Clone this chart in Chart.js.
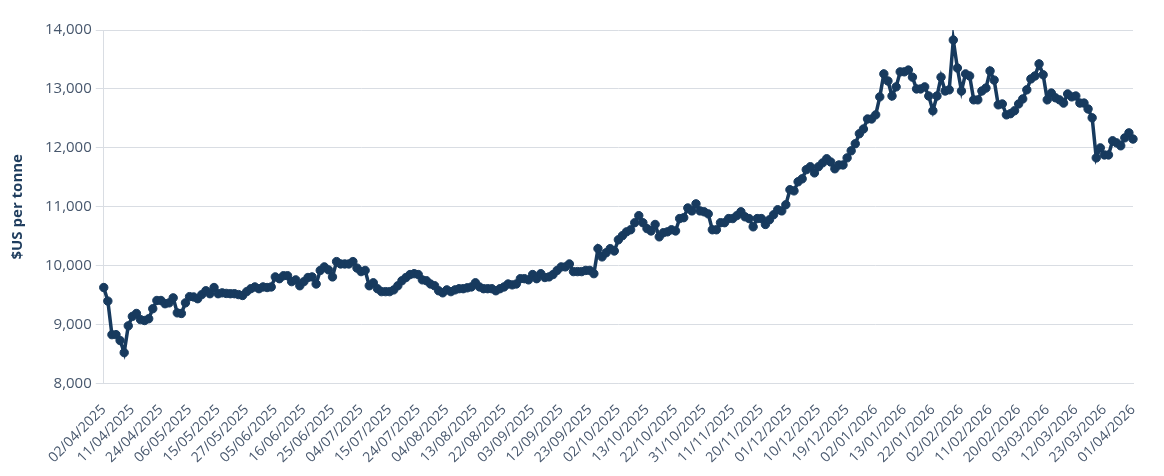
<!DOCTYPE html>
<html>
<head>
<meta charset="utf-8">
<script src="https://cdn.jsdelivr.net/npm/chart.js@4.4.1/dist/chart.umd.min.js"></script>
<style>
  html, body { margin: 0; padding: 0; background: #fff; }
  #wrap { width: 1164px; height: 476px; position: relative; }
</style>
</head>
<body>
<div id="wrap"><canvas id="chart"></canvas></div>
<script>
// trading days: weekdays from start to end, minus UK/LME holidays
var startDate = '2025-04-02';
var endDate = '2026-04-01';
var holidays = ['2025-04-18', '2025-04-21', '2025-05-05', '2025-05-26', '2025-08-25',
                '2025-12-25', '2025-12-26', '2026-01-01'];

// $US per tonne, one value per trading day, month by month
var apr25 = [9630, 9400, 8830, 8830, 8730, 8525, 8980, 9140, 9190, 9085, 9070, 9100, 9270, 9410, 9410, 9355, 9370, 9455, 9200];
var may25 = [9190, 9370, 9475, 9470, 9440, 9510, 9575, 9525, 9630, 9525, 9540, 9530, 9525, 9525, 9510, 9495, 9560, 9610, 9640, 9610];
var jun25 = [9640, 9630, 9640, 9810, 9780, 9830, 9830, 9730, 9760, 9660, 9730, 9800, 9810, 9690, 9920, 9980, 9930, 9810, 10070, 10030, 10030];
var jul25 = [10030, 10070, 9960, 9900, 9920, 9660, 9710, 9610, 9560, 9560, 9560, 9590, 9660, 9745, 9800, 9850, 9865, 9850, 9760, 9745, 9690, 9660, 9575];
var aug25 = [9540, 9590, 9560, 9590, 9610, 9610, 9625, 9640, 9710, 9640, 9610, 9610, 9610, 9575, 9610, 9640, 9690, 9675, 9690, 9780];
var sep25 = [9780, 9760, 9850, 9780, 9865, 9800, 9810, 9850, 9920, 9980, 9980, 10030, 9900, 9900, 9900, 9920, 9920, 9865, 10290, 10150, 10220, 10290];
var oct25 = [10250, 10440, 10510, 10575, 10610, 10730, 10850, 10730, 10630, 10590, 10700, 10490, 10560, 10575, 10610, 10590, 10800, 10815, 10980, 10930, 11050, 10930, 10915];
var nov25 = [10880, 10610, 10610, 10730, 10730, 10800, 10800, 10850, 10915, 10830, 10800, 10660, 10800, 10800, 10700, 10780, 10865, 10950, 10930, 11035];
var dec25 = [11290, 11270, 11425, 11475, 11630, 11680, 11575, 11680, 11745, 11815, 11760, 11645, 11710, 11710, 11830, 11950, 12070, 12240, 12320, 12490, 12490];
var jan26 = [12560, 12865, 13255, 13135, 12880, 13035, 13290, 13290, 13320, 13200, 13000, 13000, 13035, 12880, 12630, 12880, 13200, 12965, 12985, 13830, 13355];
var feb26 = [12965, 13255, 13220, 12815, 12815, 12965, 13015, 13305, 13150, 12730, 12745, 12560, 12580, 12630, 12745, 12830, 12985, 13170, 13220, 13425];
var mar26 = [13240, 12815, 12930, 12850, 12815, 12760, 12915, 12865, 12880, 12760, 12760, 12660, 12510, 11830, 12000, 11880, 11880, 12120, 12085, 12035, 12170, 12255];
var apr26 = [12150];

var prices = [].concat(apr25, may25, jun25, jul25, aug25, sep25, oct25, nov25, dec25, jan26, feb26, mar26, apr26);

var yTicks = [8000, 9000, 10000, 11000, 12000, 13000, 14000];
var labelEvery = 7;

function pad(n) { return (n < 10 ? '0' : '') + n; }

var dates = [];
var d = new Date(startDate + 'T12:00:00Z');
var last = new Date(endDate + 'T12:00:00Z');
while (d <= last) {
  var iso = d.toISOString().slice(0, 10);
  var wd = d.getUTCDay();
  if (wd !== 0 && wd !== 6 && holidays.indexOf(iso) < 0) {
    dates.push(pad(d.getUTCDate()) + '/' + pad(d.getUTCMonth() + 1) + '/' + d.getUTCFullYear());
  }
  d.setUTCDate(d.getUTCDate() + 1);
}

var navy = '#173a5e';
var tickColor = '#47576d';
var gridColor = '#d9dde3';

var ctx = document.getElementById('chart').getContext('2d');
new Chart(ctx, {
  type: 'line',
  data: {
    labels: dates,
    datasets: [{
      data: prices,
      borderColor: navy,
      backgroundColor: navy,
      borderWidth: 3.5,
      pointRadius: 4.2,
      pointBorderWidth: 1,
      pointBackgroundColor: navy,
      tension: 0
    }]
  },
  options: {
    responsive: true,
    maintainAspectRatio: false,
    animation: false,
    layout: { padding: { top: 30, right: 31, left: 9, bottom: 0 } },
    plugins: { legend: { display: false }, tooltip: { enabled: false } },
    scales: {
      x: {
        grid: { display: false },
        border: { color: gridColor },
        ticks: {
          autoSkip: false,
          maxRotation: 45,
          minRotation: 45,
          padding: 10,
          color: tickColor,
          font: { family: 'Open Sans', size: 14 },
          callback: function(v, i) { return i % labelEvery === 0 ? dates[i] : null; }
        }
      },
      y: {
        min: yTicks[0],
        max: yTicks[yTicks.length - 1],
        afterBuildTicks: function(axis) { axis.ticks = yTicks.map(function(v) { return { value: v }; }); },
        grid: { color: gridColor, tickLength: 8 },
        border: { color: gridColor },
        ticks: {
          color: tickColor,
          padding: 4,
          font: { family: 'Open Sans', size: 15 },
          callback: function(v) { return v.toLocaleString('en-US'); }
        },
        title: {
          display: true,
          text: '$US per tonne',
          color: '#1f3d5e',
          font: { family: 'Open Sans', size: 15, weight: 'bold' },
          padding: { top: 0, bottom: 14 }
        }
      }
    }
  }
});
</script>
</body>
</html>
